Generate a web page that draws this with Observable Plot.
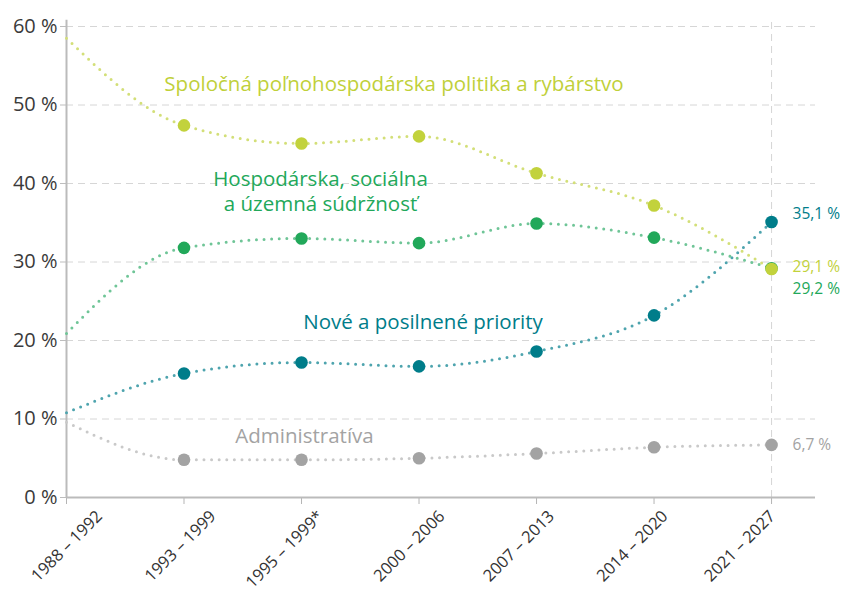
<!DOCTYPE html>
<html>
<head>
<meta charset="utf-8">
<script src="https://cdn.jsdelivr.net/npm/d3@7"></script>
<script src="https://cdn.jsdelivr.net/npm/@observablehq/plot@0.6"></script>
<style>
  html, body { margin: 0; padding: 0; background: #fff; }
</style>
</head>
<body>
<div id="chart"></div>
<script>
const periods = ["1988 – 1992", "1993 – 1999", "1995 – 1999*", "2000 – 2006", "2007 – 2013", "2014 – 2020", "2021 – 2027"];
const seriesNames = [
  "Spoločná poľnohospodárska politika a rybárstvo",
  "Hospodárska, sociálna a územná súdržnosť",
  "Nové a posilnené priority",
  "Administratíva"
];
const capValues = [58.5, 47.4, 45.1, 46.0, 41.3, 37.2, 29.1];
const cohesionValues = [20.9, 31.8, 33.0, 32.4, 34.9, 33.1, 29.2];
const priorityValues = [10.8, 15.8, 17.2, 16.7, 18.6, 23.2, 35.1];
const adminValues = [9.6, 4.8, 4.8, 5.0, 5.6, 6.4, 6.7];
const yTicks = [0, 10, 20, 30, 40, 50, 60];

const dotColors = ["#c2d23c", "#22a85a", "#007d8a", "#a3a3a3"];
const lineColors = ["#d3df78", "#6fc597", "#4ea4ae", "#c9c9c9"];

const valueSets = [capValues, cohesionValues, priorityValues, adminValues];
const drawOrder = [3, 2, 1, 0];

const rows = [];
drawOrder.forEach(s => {
  periods.forEach((p, i) => rows.push({series: s, period: p, value: valueSets[s][i], idx: i}));
});

const fmt = v => v.toFixed(1).replace(".", ",") + " %";
const last = periods.length - 1;

const lineMarks = drawOrder.map(s =>
  Plot.line(rows.filter(d => d.series === s), {
    x: "period", y: "value",
    stroke: lineColors[s], strokeWidth: 3,
    strokeDasharray: "0,7.6", strokeLinecap: "round",
    curve: "monotone-x"
  })
);
const dotMarks = drawOrder.map(s =>
  Plot.dot(rows.filter(d => d.series === s && d.idx > 0), {
    x: "period", y: "value", r: 6.3, fill: dotColors[s], stroke: "none"
  })
);

const labelDy = [-2, 21, -8, 0];
const endLabels = [0, 1, 2, 3].map(s =>
  Plot.text([{period: periods[last], value: valueSets[s][last]}], {
    x: "period", y: "value", text: d => fmt(d.value),
    fill: dotColors[s], fontSize: 15.5, textAnchor: "start", dx: 21, dy: labelDy[s]
  })
);

const nameLabels = [
  Plot.text([{period: periods[3], value: 52.6}], {x: "period", y: "value", text: () => seriesNames[0], fill: "#bfd03a", fontSize: 20.5, dx: -25}),
  Plot.text([{period: periods[2], value: 39.1}], {x: "period", y: "value", text: () => "Hospodárska, sociálna\na územná súdržnosť", fill: "#22a85a", fontSize: 20.5, dx: 19, lineHeight: 1.22}),
  Plot.text([{period: periods[3], value: 22.3}], {x: "period", y: "value", text: () => seriesNames[2], fill: "#007d8a", fontSize: 20.5, dx: 4}),
  Plot.text([{period: periods[2], value: 7.8}], {x: "period", y: "value", text: () => seriesNames[3], fill: "#a3a3a3", fontSize: 20.5, dx: 3})
];

// per-label horizontal shift of the rotated period labels (as in the reference)
const tickLabelDx = [33, 29, 19, 23, 15, 11, 1];
const xLabelAxes = periods.map((p, i) =>
  Plot.axisX({ticks: [p], tickRotate: -45, fontSize: 16.5, tickSize: 0, tickPadding: 6, dx: tickLabelDx[i], dy: 10, fill: "#333"})
);

const chart = Plot.plot({
  width: 846,
  height: 593,
  marginLeft: 66,
  marginRight: 31,
  marginTop: 26,
  marginBottom: 96,
  style: {fontFamily: "'Open Sans', sans-serif", background: "#fff", overflow: "visible"},
  x: {type: "point", domain: periods, padding: 0.187, align: 0, round: false, label: null},
  y: {domain: [0, 60], label: null},
  marks: [
    Plot.ruleY(yTicks.filter(t => t > 0), {stroke: "#d6d6d6", strokeDasharray: "7,5", strokeWidth: 1}),
    Plot.ruleX([periods[last]], {y1: 0, y2: 60.8, stroke: "#d6d6d6", strokeDasharray: "7,5", strokeWidth: 1}),
    Plot.axisY({ticks: yTicks, tickFormat: d => d + " %", fontSize: 20, tickSize: 6, tickPadding: 3, stroke: "#bdbdbd", fill: "#3a3a3a"}),
    Plot.axisX({tickSize: 7, tickFormat: () => "", stroke: "#b5b5b5"}),
    ...xLabelAxes,
    Plot.ruleX([periods[0]], {y1: 0, y2: 60.8, stroke: "#bbbbbb", strokeWidth: 2}),
    Plot.ruleY([0], {stroke: "#bbbbbb", strokeWidth: 2}),
    ...lineMarks,
    ...dotMarks,
    ...endLabels,
    ...nameLabels
  ]
});
document.getElementById("chart").appendChild(chart);
</script>
</body>
</html>
